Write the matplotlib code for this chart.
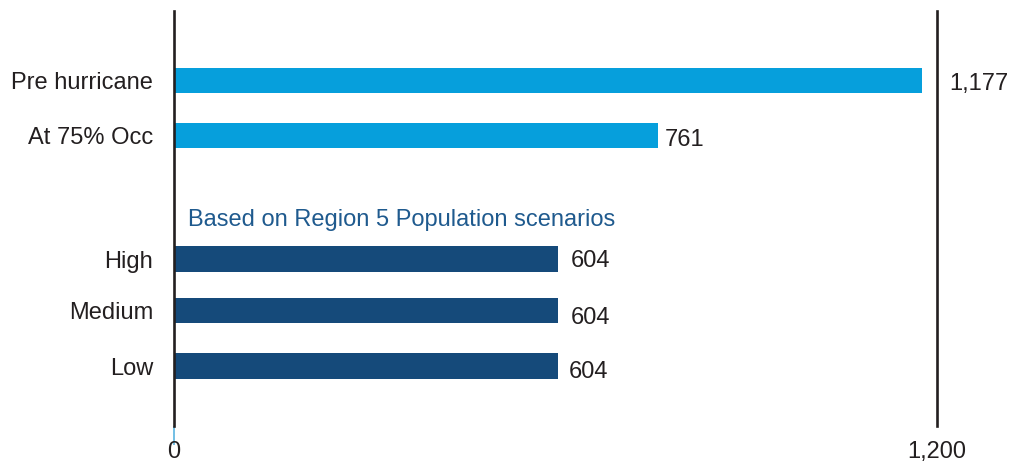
import matplotlib.pyplot as plt

plt.rcParams['font.family'] = ['Liberation Sans', 'DejaVu Sans']

# Beds available, pre-storm vs. population scenarios
categories = ["Pre hurricane", "At 75% Occ", "High", "Medium", "Low"]
values = [1177, 761, 604, 604, 604]
value_labels = ["1,177", "761", "604", "604", "604"]
bar_colors = ["#069fdc", "#069fdc", "#154a7a", "#154a7a", "#154a7a"]
x_ticks = [0, 1200]
x_tick_labels = ["0", "1,200"]
subtitle = "Based on Region 5 Population scenarios"

# vertical slots (the scenario group sits lower, after a gap)
y_pos = [0, 1.0, 3.236, 4.18, 5.18]

W, H = 1016, 461
fig = plt.figure(figsize=(W / 100, H / 100), dpi=100)
ax = fig.add_axes([174 / W, (H - 426) / H, 763 / W, 415 / H])

ax.barh(y_pos, values, height=0.455, color=bar_colors)
ax.set_xlim(0, 1200)
ax.set_ylim(6.27, -1.27)

ax.set_yticks(y_pos)
ax.set_yticklabels(categories, fontsize=17, color="#231f20")
ax.tick_params(axis="y", length=0, pad=15)

ax.set_xticks(x_ticks)
ax.set_xticklabels(x_tick_labels, fontsize=17, color="#231f20")
ax.tick_params(axis="x", length=14, width=1.2, color="#5ab4e0", pad=-3.5)
ax.xaxis.get_major_ticks()[1].tick1line.set_visible(False)

for side in ["top", "bottom"]:
    ax.spines[side].set_visible(False)
for side in ["left", "right"]:
    ax.spines[side].set_color("#231f20")
    ax.spines[side].set_linewidth(1.9)

# value labels; the first one sits beyond the right rule
gaps = [9, 5, 9, 9, 8]
drops = [-2, -3, -1.5, -5, -4.5]
for i, (v, lab) in enumerate(zip(values, value_labels)):
    x = 1200 if v > 1100 else v
    ax.annotate(lab, (x, y_pos[i]), xytext=(gaps[i], drops[i]), textcoords="offset points",
                va="center", ha="left", fontsize=17, color="#231f20")

ax.text(22, 2.53, subtitle, fontsize=17, color="#1f5a8e", va="center", ha="left")

fig.savefig("out.png", dpi=100)
